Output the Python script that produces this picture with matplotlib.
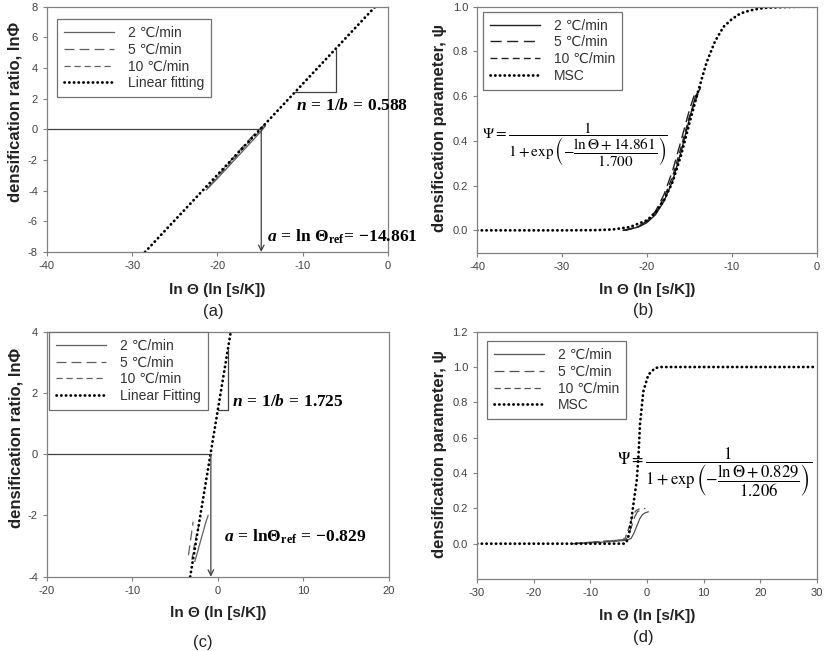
import numpy as np
import matplotlib
matplotlib.use('Agg')
import matplotlib.pyplot as plt
from matplotlib.ticker import FormatStrFormatter

plt.rcParams['axes.unicode_minus'] = False
plt.rcParams['font.family'] = ['Liberation Sans', 'DejaVu Sans']
plt.rcParams['mathtext.fontset'] = 'custom'
plt.rcParams['mathtext.rm'] = 'Liberation Serif:bold'
plt.rcParams['mathtext.it'] = 'Liberation Serif:italic:bold'
plt.rcParams['mathtext.bf'] = 'Liberation Serif:bold'

rate_labels = ['2 ℃/min', '5 ℃/min', '10 ℃/min']

# ---------------- (a) ln(Phi) vs ln(Theta), first powder
a_x_2 = [-21.3, -20, -19, -18, -17, -16, -15, -14.4]
a_y_2 = [-3.95, -3.2, -2.6, -2.0, -1.4, -0.8, -0.2, 0.2]
a_x_5 = [-21.0, -20, -19, -18, -17, -16, -15, -14.3]
a_y_5 = [-3.75, -3.05, -2.4, -1.75, -1.1, -0.5, 0.05, 0.4]
a_x_10 = [-21.2, -20, -19, -18, -17, -16, -15, -14.2]
a_y_10 = [-3.85, -3.15, -2.5, -1.9, -1.25, -0.65, -0.1, 0.35]
a_fit_x = [-28.5, -1.5]
a_fit_y = [-8, 8]
a_ref = -14.861
a_tri_x = [-10.9, -6.1, -6.1]
a_tri_y = [2.42, 2.42, 5.24]

# ---------------- (b) Psi vs ln(Theta), first powder
b_x_2 = [-22.8, -22, -21, -20, -19, -18, -17, -16, -15, -14.3, -13.8]
b_y_2 = [0.0, 0.005, 0.015, 0.035, 0.07, 0.13, 0.22, 0.35, 0.5, 0.6, 0.63]
b_x_5 = [-22.8, -22, -21, -20, -19, -18, -17, -16, -15, -14.3]
b_y_5 = [0.0, 0.007, 0.018, 0.042, 0.085, 0.16, 0.265, 0.4, 0.54, 0.62]
b_x_10 = [-22.5, -22, -21, -20, -19, -18, -17, -16, -15, -14, -13.7]
b_y_10 = [0.0, 0.006, 0.017, 0.038, 0.078, 0.145, 0.24, 0.37, 0.51, 0.61, 0.64]
b_msc_x = [-40, -30, -26, -24, -22, -20, -19, -18, -17, -16, -15, -14, -13,
           -12, -11, -10, -9, -8, -7, -6, -4, -2, 0]
b_msc_y = [0.0, 0.0, 0.001, 0.004, 0.015, 0.045, 0.08, 0.135, 0.215, 0.335,
           0.48, 0.62, 0.75, 0.845, 0.91, 0.945, 0.97, 0.982, 0.99, 0.995,
           0.998, 1.0, 1.0]

# ---------------- (c) ln(Phi) vs ln(Theta), second powder
c_x_2 = [-2.7, -2.5, -2.2, -1.9, -1.6, -1.4, -1.15]
c_y_2 = [-3.5, -3.3, -3.0, -2.7, -2.4, -2.2, -2.0]
c_x_5 = [-3.45, -3.3, -3.15, -3.0, -2.9]
c_y_5 = [-3.3, -3.0, -2.7, -2.4, -2.2]
c_x_10 = [-3.05, -2.85, -2.6, -2.35, -2.1]
c_y_10 = [-3.45, -3.1, -2.75, -2.45, -2.2]
c_fit_x = [-3.25, 1.5]
c_fit_y = [-4, 4]
c_ref = -0.829
c_tri_x = [0.03, 1.2, 1.2]
c_tri_y = [1.45, 1.45, 3.4]

# ---------------- (d) Psi vs ln(Theta), second powder
d_x_2 = [-13, -10, -7, -5, -3.5, -2.8, -2.3, -1.8, -1.3, -0.8, -0.3, 0.2]
d_y_2 = [0.0, 0.005, 0.01, 0.015, 0.02, 0.03, 0.06, 0.1, 0.14, 0.165, 0.175, 0.18]
d_x_5 = [-13, -10, -7, -5, -3.7, -3.2, -2.7, -2.2, -1.7, -1.2, -0.7, -0.3]
d_y_5 = [0.0, 0.008, 0.014, 0.02, 0.025, 0.05, 0.1, 0.15, 0.18, 0.19, 0.198, 0.2]
d_x_10 = [-13, -10, -7, -5, -3.9, -3.5, -3.0, -2.5, -2.0, -1.5, -1.0]
d_y_10 = [0.0, 0.008, 0.015, 0.02, 0.028, 0.06, 0.11, 0.16, 0.185, 0.195, 0.2]
d_msc_x = [-30, -10, -4, -3.6, -3.2, -2.7, -2.2, -1.8, -1.5, -1.24, -0.65,
           0.23, 1.41, 2.5, 30]
d_msc_y = [0.0, 0.0, 0.0, 0.01, 0.05, 0.15, 0.27, 0.36, 0.5, 0.675, 0.862,
           0.956, 0.994, 1.0, 1.0]

dot = (0, (0.1, 1.6))
spine_c = '#808080'
tick_c = '#404040'


def style_axes(ax, xlim, ylim, xticks, yticks, ylabel, ylab_pos, xlab_y):
    ax.set_xlim(xlim)
    ax.set_ylim(ylim)
    ax.set_xticks(xticks)
    ax.set_yticks(yticks)
    for s in ax.spines.values():
        s.set_color(spine_c)
        s.set_linewidth(0.9)
    ax.tick_params(direction='out', length=3, width=0.8, color=spine_c,
                   labelsize=8, labelcolor=tick_c, pad=3.5)
    ax.set_xlabel('ln Θ (ln [s/K])', fontsize=11, fontweight='bold', color='#222222')
    ax.set_ylabel(ylabel, fontsize=12, fontweight='bold', color='#222222')
    ax.xaxis.set_label_coords(0.5, xlab_y)
    ax.yaxis.set_label_coords(ylab_pos[0], ylab_pos[1])


def add_legend(ax, handles, labels, anchor):
    leg = ax.legend(handles, labels, loc='upper left', bbox_to_anchor=anchor,
                    borderaxespad=0, fancybox=False, framealpha=1,
                    edgecolor='#707070', fontsize=10, handlelength=3.6,
                    handletextpad=1.0, labelspacing=0.2, borderpad=0.5)
    leg.get_frame().set_linewidth(0.9)
    for t in leg.get_texts():
        t.set_color('#333333')


fig = plt.figure(figsize=(8.27, 6.51), dpi=100)
ax_a = fig.add_axes([0.0568, 0.6129, 0.4123, 0.3768])
ax_b = fig.add_axes([0.5768, 0.6118, 0.4111, 0.3779])
ax_c = fig.add_axes([0.0568, 0.1141, 0.4135, 0.3763])
ax_d = fig.add_axes([0.5768, 0.1106, 0.4111, 0.3799])

bold_math = dict(fontsize=12.5, color='black', math_fontfamily='custom')

# ---- (a)
g = '#606060'
l2, = ax_a.plot(a_x_2, a_y_2, color=g, lw=0.9, ls='-')
l5, = ax_a.plot(a_x_5, a_y_5, color=g, lw=0.9, ls=(0, (8, 4)))
l10, = ax_a.plot(a_x_10, a_y_10, color=g, lw=0.9, ls=(0, (5, 3)))
lf, = ax_a.plot(a_fit_x, a_fit_y, color='black', lw=2, ls=dot,
                dash_capstyle='round')
ax_a.plot([-40, a_ref], [0, 0], color='#404040', lw=0.9)
ax_a.annotate('', xy=(a_ref, -8), xytext=(a_ref, 0),
              arrowprops=dict(arrowstyle='->', color='#404040', lw=0.9,
                              shrinkA=0, shrinkB=0))
ax_a.plot(a_tri_x, a_tri_y, color='#404040', lw=0.9)
ax_a.text(-10.8, 1.6, r'$n\,=\,\mathit{1/b}\,=\,0.588$', va='center', ha='left', **bold_math)
ax_a.text(-14.2, -7.0, r'$a\,=\,\mathrm{ln}\ \Theta_{\mathrm{ref}}\!=\,\mathrm{-14.861}$',
          va='center', ha='left', **bold_math)
style_axes(ax_a, (-40, 0), (-8, 8), range(-40, 1, 10), range(-8, 9, 2),
           'densification ratio, lnΦ', (-0.073, 0.57), -0.128)
add_legend(ax_a, [l2, l5, l10, lf], rate_labels + ['Linear fitting'], (0.029, 0.95))

# ---- (b)
g = '#202020'
l2, = ax_b.plot(b_x_2, b_y_2, color=g, lw=1.0, ls='-')
l5, = ax_b.plot(b_x_5, b_y_5, color=g, lw=1.0, ls=(0, (8, 4)))
l10, = ax_b.plot(b_x_10, b_y_10, color=g, lw=1.0, ls=(0, (5, 3)))
lm, = ax_b.plot(b_msc_x, b_msc_y, color='black', lw=2, ls=dot,
                dash_capstyle='round')
ax_b.text(-39.4, 0.384,
          r'$\Psi = \dfrac{1}{1+\exp\left(-\dfrac{\ln\Theta+14.861}{1.700}\right)}$',
          fontsize=11, va='center', ha='left', math_fontfamily='stix')
style_axes(ax_b, (-40, 0), (-0.1, 1.0), range(-40, 1, 10), np.arange(0, 1.01, 0.2),
           'densification parameter, ψ', (-0.088, 0.507), -0.122)
ax_b.yaxis.set_major_formatter(FormatStrFormatter('%.1f'))
add_legend(ax_b, [l2, l5, l10, lm], rate_labels + ['MSC'], (0.018, 0.98))

# ---- (c)
g = '#606060'
l2, = ax_c.plot(c_x_2, c_y_2, color=g, lw=0.9, ls='-')
l5, = ax_c.plot(c_x_5, c_y_5, color=g, lw=0.9, ls=(0, (8, 4)))
l10, = ax_c.plot(c_x_10, c_y_10, color=g, lw=0.9, ls=(0, (5, 3)))
lf, = ax_c.plot(c_fit_x, c_fit_y, color='black', lw=2, ls=dot,
                dash_capstyle='round')
ax_c.plot([-20, c_ref], [0, 0], color='#404040', lw=0.9)
ax_c.annotate('', xy=(c_ref, -4), xytext=(c_ref, 0),
              arrowprops=dict(arrowstyle='->', color='#404040', lw=0.9,
                              shrinkA=0, shrinkB=0))
ax_c.plot(c_tri_x, c_tri_y, color='#404040', lw=0.9)
ax_c.text(1.6, 1.74, r'$n\,=\,\mathrm{1/}b\,=\,1.725$', va='center', ha='left', **bold_math)
ax_c.text(0.7, -2.7, r'$a\,=\,\mathrm{ln}\Theta_{\mathrm{ref}}\,=\,\mathrm{-0.829}$',
          va='center', ha='left', **bold_math)
style_axes(ax_c, (-20, 20), (-4, 4), range(-20, 21, 10), range(-4, 5, 2),
           'densification ratio, lnΦ', (-0.070, 0.568), -0.120)
add_legend(ax_c, [l2, l5, l10, lf], rate_labels + ['Linear Fitting'], (0.006, 1.0))

# ---- (d)
g = '#505050'
l2, = ax_d.plot(d_x_2, d_y_2, color=g, lw=0.9, ls='-')
l5, = ax_d.plot(d_x_5, d_y_5, color=g, lw=0.9, ls=(0, (8, 4)))
l10, = ax_d.plot(d_x_10, d_y_10, color=g, lw=0.9, ls=(0, (5, 3)))
lm, = ax_d.plot(d_msc_x, d_msc_y, color='black', lw=2, ls=dot,
                dash_capstyle='round')
ax_d.text(-5.3, 0.404,
          r'$\Psi = \dfrac{1}{1+\exp\left(-\dfrac{\ln\Theta+0.829}{1.206}\right)}$',
          fontsize=12, va='center', ha='left', math_fontfamily='stix')
style_axes(ax_d, (-30, 30), (-0.2, 1.2), range(-30, 31, 10), np.arange(0, 1.21, 0.2),
           'densification parameter, ψ', (-0.088, 0.504), -0.123)
ax_d.yaxis.set_major_formatter(FormatStrFormatter('%.1f'))
add_legend(ax_d, [l2, l5, l10, lm], rate_labels + ['MSC'], (0.029, 0.962))

# captions
for (cx, cy, s) in [(0.2576, 0.5212, '(a)'), (0.7775, 0.5238, '(b)'),
                    (0.2455, 0.0123, '(c)'), (0.7775, 0.020, '(d)')]:
    fig.text(cx, cy, s, ha='center', va='center', fontsize=12, color='#222222')

fig.savefig('out.png', dpi=100)
